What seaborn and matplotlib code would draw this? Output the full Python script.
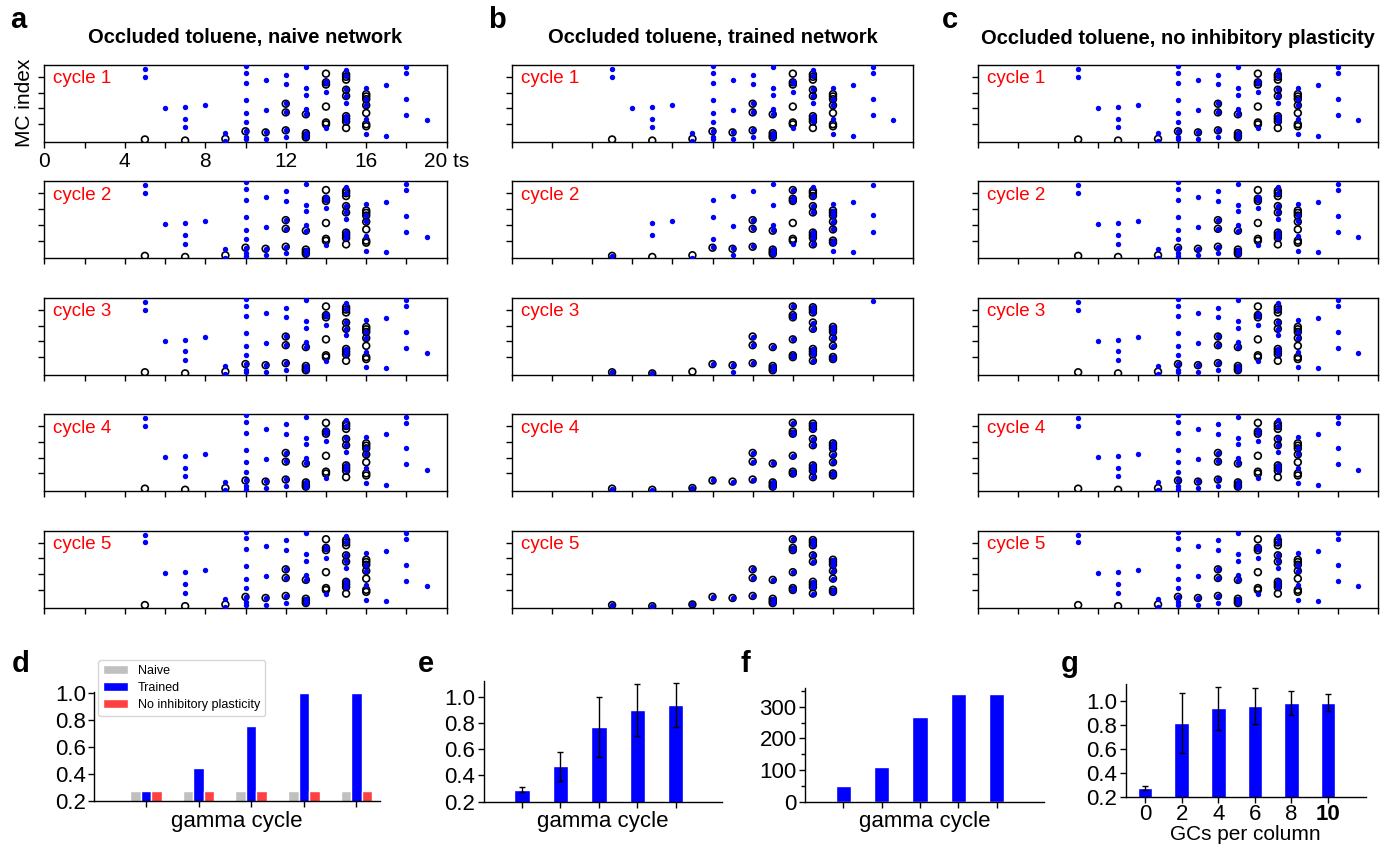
import matplotlib
matplotlib.use('Agg')
import matplotlib.pyplot as plt
import numpy as np
import pandas as pd
import seaborn as sns

# ---- spike rasters (time step -> MC indices that fire) ----
# clean toluene pattern (black open circles)
template_spikes = {5: [0.3], 7: [-0.4], 9: [0.7], 10: [5.5], 11: [4.8],
                   12: [23.0, 17.5, 6.1], 13: [16.3, 4.3, 2.8, 1.6],
                   14: [42.1, 36.6, 35.2, 21.2, 11.1, 9.9],
                   15: [41.6, 40.1, 38.3, 31.9, 27.9, 15.1, 13.4, 11.7, 7.6],
                   16: [29.1, 27.6, 25.9, 22.0, 17.1, 10.0, 8.7]}
# MC output to the occluded odor, naive network (blue dots)
naive_spikes = {5: [45.0, 40.1], 6: [20.4], 7: [21.0, 13.6, 8.1], 8: [22.5],
                9: [4.4, -0.8],
                10: [47.0, 42.7, 35.9, 25.1, 17.0, 11.1, 5.5, 2.0, 0.3],
                11: [38.0, 18.9, 4.9, 0.6],
                12: [41.4, 35.3, 23.2, 17.6, 6.2, 1.9],
                13: [46.1, 32.7, 28.5, 19.7, 16.4, 4.3, 2.8, 1.6],
                14: [37.4, 35.9, 30.5, 7.3],
                15: [44.2, 40.4, 32.2, 28.0, 23.7, 15.3, 13.6, 11.9],
                16: [33.2, 26.0, 22.2, 13.2, 3.6],
                17: [34.8, 2.8], 18: [46.1, 42.3, 25.9, 15.7], 19: [12.4]}
# trained network, second gamma cycle
trained_c2_spikes = {5: [0.3], 7: [21.1, 13.7], 8: [22.6], 9: [-0.8],
                     10: [36.0, 25.1, 11.0, 5.9], 11: [38.1, 19.2, 5.0, 0.8],
                     12: [41.5, 23.3, 17.8, 6.5],
                     13: [46.2, 32.6, 19.9, 16.5, 4.4, 2.9, 1.8],
                     14: [42.4, 37.1, 35.4, 7.6],
                     15: [44.1, 38.5, 32.0, 28.2, 15.2, 13.5, 11.8, 7.9],
                     16: [33.2, 29.0, 27.0, 25.4, 21.8, 17.1, 9.7, 8.4, 3.5],
                     17: [34.7, 2.9], 18: [45.5, 26.0, 15.6]}
# trained network, third cycle: template minus t=9, plus two extra spikes
trained_c3_extra = {11: [0.5], 18: [45.3]}
trained_c3_silent = [9]

column_titles = ['Occluded toluene, naive network',
                 'Occluded toluene, trained network',
                 'Occluded toluene, no inhibitory plasticity']
cycle_labels = ['cycle 1', 'cycle 2', 'cycle 3', 'cycle 4', 'cycle 5']

# ---- bar panels ----
gamma_cycles = ['1', '2', '3', '4', '5']
d_naive = [0.28, 0.28, 0.28, 0.28, 0.28]
d_trained = [0.28, 0.45, 0.76, 1.0, 1.0]
d_noinhib = [0.28, 0.28, 0.28, 0.28, 0.28]
e_mean = [0.29, 0.47, 0.77, 0.90, 0.94]
e_err = [0.02, 0.11, 0.23, 0.20, 0.17]
f_counts = [48, 108, 267, 340, 340]
g_gcs = ['0', '2', '4', '6', '8', '10']
g_mean = [0.275, 0.815, 0.94, 0.955, 0.985, 0.985]
g_err = [0.018, 0.25, 0.18, 0.15, 0.10, 0.07]

BLUE = '#0000ff'
GREY = '#c0c0c0'
RED = '#ff4040'

sns.set_style('ticks')
plt.rcParams['font.family'] = ['Liberation Sans', 'DejaVu Sans']
for key in ['text.color', 'axes.labelcolor', 'xtick.color', 'ytick.color', 'axes.edgecolor']:
    plt.rcParams[key] = 'black'
plt.rcParams['axes.linewidth'] = 1.0

W, H = 1393, 848
fig = plt.figure(figsize=(W / 100, H / 100), dpi=100)


def px_axes(left, top, right, bottom):
    return fig.add_axes([left / W, 1 - bottom / H, (right - left) / W, (bottom - top) / H])


def flat(spikes):
    t = [k for k, v in spikes.items() for _ in v]
    m = [x for v in spikes.values() for x in v]
    return t, m


def trained_cycle(i):
    if i == 0:
        return naive_spikes
    if i == 1:
        return trained_c2_spikes
    if i == 2:
        sp = {k: v for k, v in template_spikes.items() if k not in trained_c3_silent}
        for k, v in trained_c3_extra.items():
            sp[k] = sp.get(k, []) + v
        return sp
    return template_spikes


col_x = [(44.3, 446.7), (511.7, 913.3), (978.3, 1377.7)]
tmpl_t, tmpl_m = flat(template_spikes)

for c, (x0, x1) in enumerate(col_x):
    for r in range(5):
        top = 65 + 116.4 * r
        ax = px_axes(x0, top, x1, top + 77)
        if c == 1:
            out = trained_cycle(r)
        else:
            out = naive_spikes
        bt, bm = flat(out)
        ax.scatter(tmpl_t, tmpl_m, s=24, facecolors='none', edgecolors='black',
                   linewidths=1.2, zorder=2)
        sns.scatterplot(x=bt, y=bm, color=BLUE, s=15, linewidth=0, ax=ax, zorder=3)
        ax.set_xlim(0, 20)
        ax.set_ylim(-1.3, 47.6)
        ax.set_xticks(np.arange(0, 21, 2))
        ax.set_yticks([10, 20, 30, 40])
        ax.set_yticklabels([])
        ax.tick_params(direction='out', length=4, width=1, labelsize=15)
        if c == 0 and r == 0:
            ax.set_xticklabels(['0', '', '4', '', '8', '', '12', '', '16', '', '20 ts'])
        else:
            ax.set_xticklabels([])
        for sp in ax.spines.values():
            sp.set_visible(True)
            sp.set_color('black')
        ax.text(0.022, 0.82, cycle_labels[r], transform=ax.transAxes, color='red',
                fontsize=13.5, va='center', ha='left')
        if r == 0:
            fig.text((x0 + x1) / 2 / W, 1 - 38 / H, column_titles[c], ha='center',
                     va='center', fontsize=14.5, fontweight='bold')

fig.text(25 / W, 1 - 103 / H, 'MC index', rotation=90, ha='center', va='center', fontsize=15)

for letter, x, y in [('a', 18, 20), ('b', 497, 20), ('c', 950, 20),
                     ('d', 21, 664), ('e', 426, 664), ('f', 745, 664), ('g', 1070, 664)]:
    fig.text(x / W, 1 - y / H, letter, ha='center', va='center', fontsize=21, fontweight='bold')

# ---- d: grouped bars ----
ax_d = px_axes(94.3, 691.7, 380, 801.3)
df_d = pd.DataFrame({
    'cycle': gamma_cycles * 3,
    'value': d_naive + d_trained + d_noinhib,
    'cond': ['Naive'] * 5 + ['Trained'] * 5 + ['No inhibitory plasticity'] * 5,
})
sns.barplot(data=df_d, x='cycle', y='value', hue='cond', order=gamma_cycles,
            hue_order=['Naive', 'Trained', 'No inhibitory plasticity'],
            palette=[GREY, BLUE, RED], width=0.6, gap=0, saturation=1,
            errorbar=None, ax=ax_d)
ax_d.set_xlim(-0.985, 4.45)
ax_d.set_ylim(0.2, 1.012)
ax_d.set_yticks([0.2, 0.4, 0.6, 0.8, 1.0])
ax_d.set_xticklabels([])
ax_d.set_xlabel('gamma cycle', fontsize=16, labelpad=1)
h, l = ax_d.get_legend_handles_labels()
ax_d.legend(h, l, loc='upper left', bbox_to_anchor=(98 / W, 1 - 660 / H),
            bbox_transform=fig.transFigure, borderaxespad=0, fontsize=9,
            frameon=True, handlelength=2.0, borderpad=0.4, labelspacing=0.4)

# ---- e: mean overlap with error bars ----
ax_e = px_axes(483.6, 680.7, 721.8, 801.5)
sns.barplot(x=gamma_cycles, y=e_mean, color=BLUE, width=0.4, saturation=1,
            errorbar=None, ax=ax_e)
ax_e.errorbar(range(5), e_mean, yerr=e_err, fmt='none', ecolor='black',
              elinewidth=1.0, capsize=2.5, capthick=1.0)
ax_e.set_xlim(-1, 5.2)
ax_e.set_ylim(0.2, 1.125)
ax_e.set_yticks([0.2, 0.4, 0.6, 0.8, 1.0])
ax_e.set_xticklabels([])
ax_e.set_xlabel('gamma cycle', fontsize=16, labelpad=1)

# ---- f: counts ----
ax_f = px_axes(805, 688, 1044, 801.5)
sns.barplot(x=gamma_cycles, y=f_counts, color=BLUE, width=0.4, saturation=1,
            errorbar=None, ax=ax_f)
ax_f.set_xlim(-1, 5.23)
ax_f.set_ylim(0, 360)
ax_f.set_yticks([0, 100, 200, 300])
ax_f.set_yticks([50, 150, 250, 350], minor=True)
ax_f.set_xticklabels([])
ax_f.set_xlabel('gamma cycle', fontsize=16, labelpad=1)

# ---- g: GCs per column ----
ax_g = px_axes(1125.7, 684.3, 1365.7, 797)
sns.barplot(x=g_gcs, y=g_mean, color=BLUE, width=0.4, saturation=1,
            errorbar=None, ax=ax_g)
ax_g.errorbar(range(6), g_mean, yerr=g_err, fmt='none', ecolor='black',
              elinewidth=1.0, capsize=2.5, capthick=1.0)
ax_g.set_xlim(-0.53, 6.03)
ax_g.set_ylim(0.2, 1.14)
ax_g.set_yticks([0.2, 0.4, 0.6, 0.8, 1.0])

for ax in [ax_d, ax_e, ax_f, ax_g]:
    sns.despine(ax=ax)
    ax.tick_params(which='both', direction='out', length=4, width=1, labelsize=16, pad=2)
    ax.tick_params(which='minor', length=3)
    ax.set_ylabel('')
ax_g.tick_params(axis='x', pad=1)
ax_g.set_xlabel('GCs per column', fontsize=15, labelpad=0)
ax_g.get_xticklabels()[-1].set_fontweight('bold')

fig.savefig('out.png', dpi=100)
